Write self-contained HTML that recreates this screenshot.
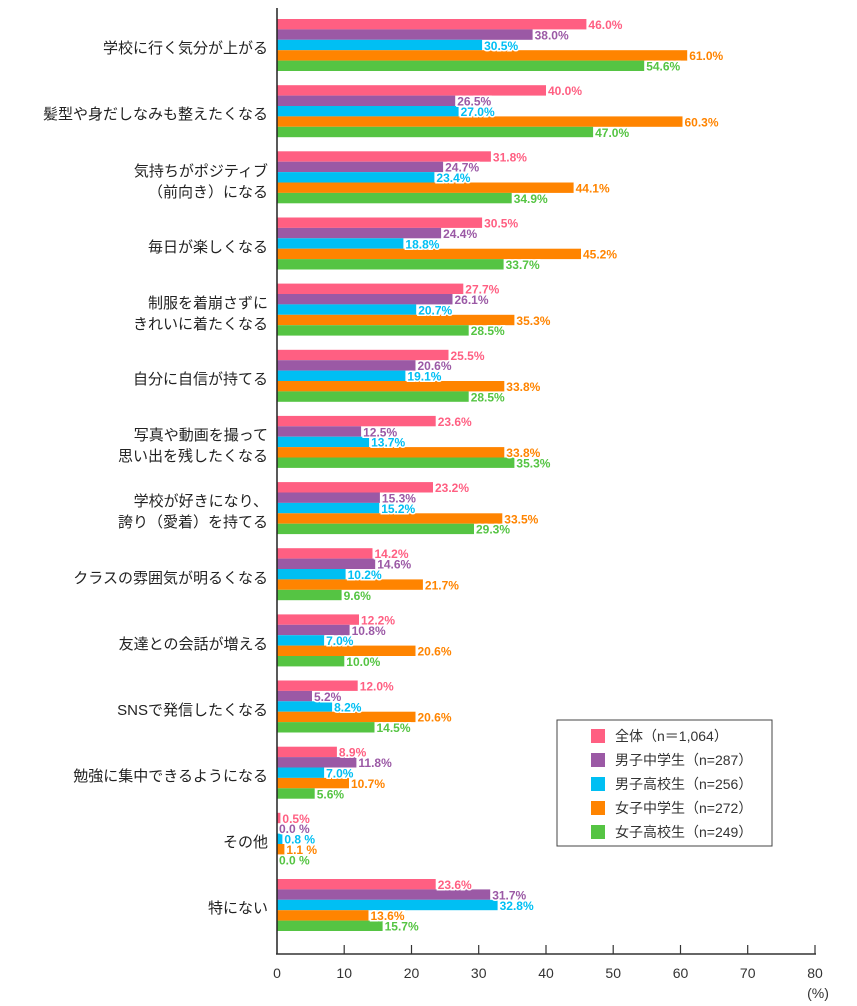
<!DOCTYPE html>
<html><head><meta charset="utf-8"><style>
body{margin:0;background:#fff}
svg{display:block;font-family:"Liberation Sans","Noto Sans CJK JP",sans-serif}
.c{font-size:15px;fill:#222;text-anchor:end}
.v{font-size:12px;font-weight:bold;paint-order:stroke;stroke:#fff;stroke-width:3px}
.a{fill:#ff5f82}.b{fill:#9b59a5}.d{fill:#00bff3}.e{fill:#ff8400}.f{fill:#55c443}
.t{font-size:14px;fill:#333;text-anchor:middle}
.l{font-size:14px;fill:#333}
</style></head><body>
<svg width="857" height="1006" viewBox="0 0 857 1006">
<defs>
<g id="n"></g>
</defs>
<!-- groups -->
<g transform="translate(277,19)"><rect class="a" y="0" width="309.4" height="10.4"/><rect class="b" y="10.4" width="255.6" height="10.4"/><rect class="d" y="20.8" width="205.1" height="10.4"/><rect class="e" y="31.2" width="410.2" height="10.4"/><rect class="f" y="41.6" width="367.2" height="10.4"/>
<text class="v a" x="311.4" y="10">46.0%</text><text class="v b" x="257.6" y="20.4">38.0%</text><text class="v d" x="207.1" y="30.8">30.5%</text><text class="v e" x="412.2" y="41.2">61.0%</text><text class="v f" x="369.2" y="51.6">54.6%</text></g>
<g transform="translate(277,85.2)"><rect class="a" y="0" width="269" height="10.4"/><rect class="b" y="10.4" width="178.2" height="10.4"/><rect class="d" y="20.8" width="181.6" height="10.4"/><rect class="e" y="31.2" width="405.5" height="10.4"/><rect class="f" y="41.6" width="316.1" height="10.4"/>
<text class="v a" x="271" y="10">40.0%</text><text class="v b" x="180.2" y="20.4">26.5%</text><text class="v d" x="183.6" y="30.8">27.0%</text><text class="v e" x="407.5" y="41.2">60.3%</text><text class="v f" x="318.1" y="51.6">47.0%</text></g>
<g transform="translate(277,151.3)"><rect class="a" y="0" width="213.9" height="10.4"/><rect class="b" y="10.4" width="166.1" height="10.4"/><rect class="d" y="20.8" width="157.4" height="10.4"/><rect class="e" y="31.2" width="296.6" height="10.4"/><rect class="f" y="41.6" width="234.7" height="10.4"/>
<text class="v a" x="215.9" y="10">31.8%</text><text class="v b" x="168.1" y="20.4">24.7%</text><text class="v d" x="159.4" y="30.8">23.4%</text><text class="v e" x="298.6" y="41.2">44.1%</text><text class="v f" x="236.7" y="51.6">34.9%</text></g>
<g transform="translate(277,217.5)"><rect class="a" y="0" width="205.1" height="10.4"/><rect class="b" y="10.4" width="164.1" height="10.4"/><rect class="d" y="20.8" width="126.4" height="10.4"/><rect class="e" y="31.2" width="304" height="10.4"/><rect class="f" y="41.6" width="226.6" height="10.4"/>
<text class="v a" x="207.1" y="10">30.5%</text><text class="v b" x="166.1" y="20.4">24.4%</text><text class="v d" x="128.4" y="30.8">18.8%</text><text class="v e" x="306" y="41.2">45.2%</text><text class="v f" x="228.6" y="51.6">33.7%</text></g>
<g transform="translate(277,283.6)"><rect class="a" y="0" width="186.3" height="10.4"/><rect class="b" y="10.4" width="175.5" height="10.4"/><rect class="d" y="20.8" width="139.2" height="10.4"/><rect class="e" y="31.2" width="237.4" height="10.4"/><rect class="f" y="41.6" width="191.7" height="10.4"/>
<text class="v a" x="188.3" y="10">27.7%</text><text class="v b" x="177.5" y="20.4">26.1%</text><text class="v d" x="141.2" y="30.8">20.7%</text><text class="v e" x="239.4" y="41.2">35.3%</text><text class="v f" x="193.7" y="51.6">28.5%</text></g>
<g transform="translate(277,349.8)"><rect class="a" y="0" width="171.5" height="10.4"/><rect class="b" y="10.4" width="138.5" height="10.4"/><rect class="d" y="20.8" width="128.4" height="10.4"/><rect class="e" y="31.2" width="227.3" height="10.4"/><rect class="f" y="41.6" width="191.7" height="10.4"/>
<text class="v a" x="173.5" y="10">25.5%</text><text class="v b" x="140.5" y="20.4">20.6%</text><text class="v d" x="130.4" y="30.8">19.1%</text><text class="v e" x="229.3" y="41.2">33.8%</text><text class="v f" x="193.7" y="51.6">28.5%</text></g>
<g transform="translate(277,415.9)"><rect class="a" y="0" width="158.7" height="10.4"/><rect class="b" y="10.4" width="84.1" height="10.4"/><rect class="d" y="20.8" width="92.1" height="10.4"/><rect class="e" y="31.2" width="227.3" height="10.4"/><rect class="f" y="41.6" width="237.4" height="10.4"/>
<text class="v a" x="160.7" y="10">23.6%</text><text class="v b" x="86.1" y="20.4">12.5%</text><text class="v d" x="94.1" y="30.8">13.7%</text><text class="v e" x="229.3" y="41.2">33.8%</text><text class="v f" x="239.4" y="51.6">35.3%</text></g>
<g transform="translate(277,482.1)"><rect class="a" y="0" width="156" height="10.4"/><rect class="b" y="10.4" width="102.9" height="10.4"/><rect class="d" y="20.8" width="102.2" height="10.4"/><rect class="e" y="31.2" width="225.3" height="10.4"/><rect class="f" y="41.6" width="197" height="10.4"/>
<text class="v a" x="158" y="10">23.2%</text><text class="v b" x="104.9" y="20.4">15.3%</text><text class="v d" x="104.2" y="30.8">15.2%</text><text class="v e" x="227.3" y="41.2">33.5%</text><text class="v f" x="199" y="51.6">29.3%</text></g>
<g transform="translate(277,548.2)"><rect class="a" y="0" width="95.5" height="10.4"/><rect class="b" y="10.4" width="98.2" height="10.4"/><rect class="d" y="20.8" width="68.6" height="10.4"/><rect class="e" y="31.2" width="145.9" height="10.4"/><rect class="f" y="41.6" width="64.6" height="10.4"/>
<text class="v a" x="97.5" y="10">14.2%</text><text class="v b" x="100.2" y="20.4">14.6%</text><text class="v d" x="70.6" y="30.8">10.2%</text><text class="v e" x="147.9" y="41.2">21.7%</text><text class="v f" x="66.6" y="51.6">9.6%</text></g>
<g transform="translate(277,614.4)"><rect class="a" y="0" width="82" height="10.4"/><rect class="b" y="10.4" width="72.6" height="10.4"/><rect class="d" y="20.8" width="47.1" height="10.4"/><rect class="e" y="31.2" width="138.5" height="10.4"/><rect class="f" y="41.6" width="67.3" height="10.4"/>
<text class="v a" x="84" y="10">12.2%</text><text class="v b" x="74.6" y="20.4">10.8%</text><text class="v d" x="49.1" y="30.8">7.0%</text><text class="v e" x="140.5" y="41.2">20.6%</text><text class="v f" x="69.3" y="51.6">10.0%</text></g>
<g transform="translate(277,680.5)"><rect class="a" y="0" width="80.7" height="10.4"/><rect class="b" y="10.4" width="35" height="10.4"/><rect class="d" y="20.8" width="55.1" height="10.4"/><rect class="e" y="31.2" width="138.5" height="10.4"/><rect class="f" y="41.6" width="97.5" height="10.4"/>
<text class="v a" x="82.7" y="10">12.0%</text><text class="v b" x="37" y="20.4">5.2%</text><text class="v d" x="57.1" y="30.8">8.2%</text><text class="v e" x="140.5" y="41.2">20.6%</text><text class="v f" x="99.5" y="51.6">14.5%</text></g>
<g transform="translate(277,746.7)"><rect class="a" y="0" width="59.9" height="10.4"/><rect class="b" y="10.4" width="79.4" height="10.4"/><rect class="d" y="20.8" width="47.1" height="10.4"/><rect class="e" y="31.2" width="72" height="10.4"/><rect class="f" y="41.6" width="37.7" height="10.4"/>
<text class="v a" x="61.9" y="10">8.9%</text><text class="v b" x="81.4" y="20.4">11.8%</text><text class="v d" x="49.1" y="30.8">7.0%</text><text class="v e" x="74" y="41.2">10.7%</text><text class="v f" x="39.7" y="51.6">5.6%</text></g>
<g transform="translate(277,812.8)"><rect class="a" y="0" width="3.4" height="10.4"/><rect class="d" y="20.8" width="5.4" height="10.4"/><rect class="e" y="31.2" width="7.4" height="10.4"/>
<text class="v a" x="5.4" y="10">0.5%</text><text class="v b" x="2" y="20.4">0.0 %</text><text class="v d" x="7.4" y="30.8">0.8 %</text><text class="v e" x="9.4" y="41.2">1.1 %</text><text class="v f" x="2" y="51.6">0.0 %</text></g>
<g transform="translate(277,879)"><rect class="a" y="0" width="158.7" height="10.4"/><rect class="b" y="10.4" width="213.2" height="10.4"/><rect class="d" y="20.8" width="220.6" height="10.4"/><rect class="e" y="31.2" width="91.5" height="10.4"/><rect class="f" y="41.6" width="105.6" height="10.4"/>
<text class="v a" x="160.7" y="10">23.6%</text><text class="v b" x="215.2" y="20.4">31.7%</text><text class="v d" x="222.6" y="30.8">32.8%</text><text class="v e" x="93.5" y="41.2">13.6%</text><text class="v f" x="107.6" y="51.6">15.7%</text></g>

<!-- category labels -->
<text class="c" x="268" y="53">学校に行く気分が上がる</text>
<text class="c" x="268" y="119">髪型や身だしなみも整えたくなる</text>
<text class="c" x="268" y="176">気持ちがポジティブ</text>
<text class="c" x="268" y="197">（前向き）になる</text>
<text class="c" x="268" y="252">毎日が楽しくなる</text>
<text class="c" x="268" y="308">制服を着崩さずに</text>
<text class="c" x="268" y="329">きれいに着たくなる</text>
<text class="c" x="268" y="384">自分に自信が持てる</text>
<text class="c" x="268" y="440">写真や動画を撮って</text>
<text class="c" x="268" y="461">思い出を残したくなる</text>
<text class="c" x="268" y="506">学校が好きになり、</text>
<text class="c" x="268" y="527">誇り（愛着）を持てる</text>
<text class="c" x="268" y="583">クラスの雰囲気が明るくなる</text>
<text class="c" x="268" y="649">友達との会話が増える</text>
<text class="c" x="268" y="715">SNSで発信したくなる</text>
<text class="c" x="268" y="781">勉強に集中できるようになる</text>
<text class="c" x="268" y="847">その他</text>
<text class="c" x="268" y="913">特にない</text>

<!-- axes -->
<line x1="277" y1="8" x2="277" y2="954" stroke="#222" stroke-width="1.5"/>
<line x1="276" y1="954" x2="816" y2="954" stroke="#333" stroke-width="1.5"/>
<g stroke="#333" stroke-width="1.2">
<line x1="344.2" y1="945" x2="344.2" y2="954"/><line x1="411.5" y1="945" x2="411.5" y2="954"/><line x1="478.7" y1="945" x2="478.7" y2="954"/><line x1="546" y1="945" x2="546" y2="954"/><line x1="613.2" y1="945" x2="613.2" y2="954"/><line x1="680.5" y1="945" x2="680.5" y2="954"/><line x1="747.7" y1="945" x2="747.7" y2="954"/><line x1="815" y1="945" x2="815" y2="954"/>
</g>
<text class="t" x="277" y="978">0</text><text class="t" x="344.2" y="978">10</text><text class="t" x="411.5" y="978">20</text><text class="t" x="478.7" y="978">30</text><text class="t" x="546" y="978">40</text><text class="t" x="613.2" y="978">50</text><text class="t" x="680.5" y="978">60</text><text class="t" x="747.7" y="978">70</text><text class="t" x="815" y="978">80</text>
<text class="t" x="818" y="998">(%)</text>

<!-- legend -->
<rect x="557" y="720" width="215" height="126" fill="#fff" stroke="#444" stroke-width="1"/>
<rect class="a" x="591" y="729" width="14" height="14"/><text class="l" x="615" y="741">全体（n＝1,064）</text>
<rect class="b" x="591" y="753" width="14" height="14"/><text class="l" x="615" y="765">男子中学生（n=287）</text>
<rect class="d" x="591" y="777" width="14" height="14"/><text class="l" x="615" y="789">男子高校生（n=256）</text>
<rect class="e" x="591" y="801" width="14" height="14"/><text class="l" x="615" y="813">女子中学生（n=272）</text>
<rect class="f" x="591" y="825" width="14" height="14"/><text class="l" x="615" y="837">女子高校生（n=249）</text>
</svg>
</body></html>
